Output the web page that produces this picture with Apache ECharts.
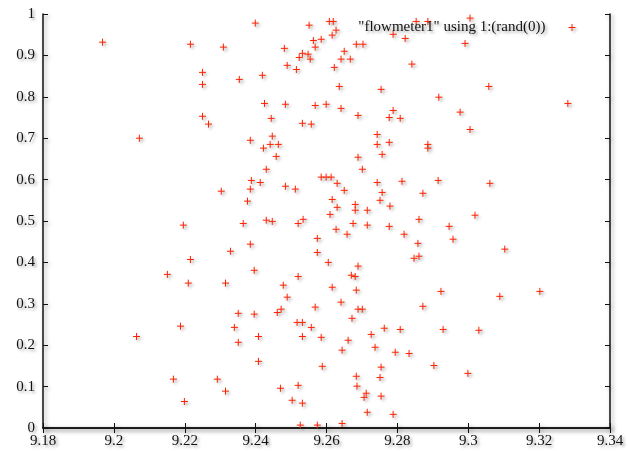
<!DOCTYPE html>
<html>
<head>
<meta charset="utf-8">
<script src="https://cdn.jsdelivr.net/npm/echarts@6/dist/echarts.min.js"></script>
<style>html,body{margin:0;padding:0;background:#fff}#c{width:628px;height:451px}</style>
</head>
<body>
<div id="c"></div>
<script>
// flowmeter1 readings (x) against rand(0) (y)
var xValues = [
9.1968,9.2216,9.2309,9.2250,9.2354,9.2250,9.2250,9.2267,9.2072,9.2303,
9.2399,9.2551,9.2608,9.2619,9.2627,9.2616,9.2563,9.2585,9.2568,9.2684,
9.2703,9.2788,9.2822,9.2853,9.2886,9.3005,9.2991,9.2481,9.2532,9.2548,
9.2523,9.2554,9.2650,9.2641,9.2667,9.2489,9.2515,9.2622,9.2841,9.2419,
9.2636,9.2754,9.2917,9.3058,9.3281,9.2425,9.2484,9.2568,9.2599,9.2641,
9.2788,9.2777,9.2808,9.2689,9.2444,9.2977,9.2532,9.2557,9.3005,9.2743,
9.2447,9.2385,9.2441,9.2464,9.2422,9.2458,9.2743,9.2777,9.2757,9.2689,
9.2886,9.2886,9.2430,9.2701,9.2585,9.2599,9.2613,9.2630,9.2388,9.2413,
9.2385,9.2484,9.2512,9.2650,9.2743,9.2813,9.2915,9.3061,9.2757,9.2872,
9.2377,9.2616,9.2751,9.2681,9.2630,9.2681,9.2715,9.2779,9.2610,9.3019,
9.2196,9.2365,9.2430,9.2447,9.2520,9.2534,9.2675,9.2715,9.2777,9.2861,
9.2627,9.2658,9.2819,9.2574,9.2385,9.2858,9.2574,9.2605,9.2847,9.2861,
9.2689,9.2396,9.2670,9.2681,9.2520,9.2478,9.2616,9.2684,9.2489,9.2641,
9.2568,9.2872,9.2472,9.2461,9.2396,9.2689,9.2701,9.2672,9.2517,9.2532,
9.2557,9.2763,9.2808,9.2726,9.2408,9.2532,9.2585,9.2661,9.2737,9.2644,
9.2794,9.2833,9.2408,9.2588,9.2754,9.2903,9.2684,9.2751,9.2520,9.2686,
9.2470,9.2712,9.2706,9.2754,9.2503,9.2532,9.2715,9.2788,9.2644,9.2526,
9.2574,9.2946,9.2957,9.3103,9.2923,9.3089,9.3202,9.2929,9.3030,9.2999,
9.2216,9.2329,9.2151,9.2210,9.2315,9.2351,9.2188,9.2340,9.2064,9.2351,
9.2168,9.2292,9.2315,9.2199
];
var yValues = [
0.932,0.927,0.920,0.859,0.842,0.830,0.753,0.734,0.700,0.572,
0.978,0.973,0.982,0.982,0.961,0.949,0.936,0.939,0.920,0.927,
0.927,0.951,0.941,0.982,0.982,0.990,0.929,0.917,0.905,0.903,
0.895,0.891,0.910,0.891,0.891,0.876,0.866,0.871,0.879,0.852,
0.825,0.818,0.799,0.825,0.784,0.784,0.782,0.779,0.782,0.772,
0.767,0.750,0.748,0.755,0.748,0.763,0.736,0.734,0.721,0.709,
0.705,0.695,0.685,0.685,0.676,0.656,0.685,0.690,0.661,0.654,
0.685,0.676,0.625,0.625,0.606,0.606,0.606,0.591,0.598,0.593,
0.577,0.584,0.577,0.574,0.593,0.596,0.598,0.591,0.569,0.567,
0.548,0.552,0.550,0.540,0.533,0.526,0.526,0.536,0.516,0.514,
0.490,0.494,0.502,0.499,0.494,0.504,0.494,0.490,0.487,0.504,
0.480,0.468,0.468,0.458,0.444,0.446,0.424,0.400,0.410,0.415,
0.391,0.381,0.369,0.366,0.366,0.345,0.340,0.333,0.316,0.304,
0.292,0.294,0.287,0.279,0.275,0.287,0.287,0.265,0.255,0.255,
0.243,0.241,0.238,0.226,0.221,0.221,0.219,0.212,0.195,0.188,
0.183,0.180,0.161,0.149,0.147,0.151,0.125,0.122,0.103,0.101,
0.096,0.084,0.074,0.077,0.067,0.060,0.038,0.033,0.011,0.007,
0.007,0.487,0.456,0.432,0.330,0.318,0.330,0.238,0.236,0.132,
0.407,0.427,0.371,0.350,0.350,0.277,0.246,0.243,0.221,0.207,
0.118,0.118,0.089,0.064
];
var seriesName = '"flowmeter1" using 1:(rand(0))';
var xTicks = {min: 9.18, max: 9.34, step: 0.02};
var yTicks = {min: 0, max: 1, step: 0.1};

var points = xValues.map(function (x, i) { return [x, yValues[i]]; });

var FONT = 'Liberation Serif';
var RED = '#ff2200';
var PLUS = 'path://M5,0L5,10M0,5L10,5';
var txtShadow = {textShadowColor: 'rgba(0,0,0,0.35)', textShadowBlur: 3, textShadowOffsetX: 2, textShadowOffsetY: 2};
var lineShadow = {shadowColor: 'rgba(0,0,0,0.35)', shadowBlur: 4, shadowOffsetX: 2, shadowOffsetY: 2};
var markStyle = {color: RED, borderColor: RED, borderWidth: 1, opacity: 1,
  shadowColor: 'rgba(0,0,0,0.3)', shadowBlur: 3, shadowOffsetX: 2, shadowOffsetY: 2};

function axisLine() {
  return {show: true, lineStyle: Object.assign({color: '#111', width: 1.5}, lineShadow)};
}
function ticks() {
  return {show: true, inside: true, length: 5, lineStyle: Object.assign({color: '#111', width: 1}, lineShadow)};
}

var chart = echarts.init(document.getElementById('c'), null, {renderer: 'canvas'});
chart.setOption({
  animation: false,
  backgroundColor: '#fff',
  grid: {left: 43, right: 18, top: 14, bottom: 23, containLabel: false},
  xAxis: [{
    type: 'value', min: xTicks.min, max: xTicks.max, interval: xTicks.step,
    position: 'bottom',
    axisLine: axisLine(), axisTick: ticks(), splitLine: {show: false},
    axisLabel: Object.assign({
      fontFamily: FONT, fontSize: 15, color: '#111', margin: 6,
      formatter: function (v) { return String(+v.toFixed(2)); }
    }, txtShadow)
  }, {
    type: 'value', min: xTicks.min, max: xTicks.max, interval: xTicks.step,
    position: 'top',
    axisLine: axisLine(), axisTick: ticks(), splitLine: {show: false},
    axisLabel: {show: false}
  }],
  yAxis: [{
    type: 'value', min: yTicks.min, max: yTicks.max, interval: yTicks.step,
    position: 'left',
    axisLine: axisLine(), axisTick: ticks(), splitLine: {show: false},
    axisLabel: Object.assign({
      fontFamily: FONT, fontSize: 15, color: '#111', margin: 8,
      formatter: function (v) { return String(+v.toFixed(1)); }
    }, txtShadow)
  }, {
    type: 'value', min: yTicks.min, max: yTicks.max, interval: yTicks.step,
    position: 'right',
    axisLine: axisLine(), axisTick: ticks(), splitLine: {show: false},
    axisLabel: {show: false}
  }],
  legend: {
    show: true,
    data: [seriesName],
    right: 47, top: 15,
    align: 'right',
    icon: PLUS,
    itemWidth: 7, itemHeight: 7,
    itemStyle: {color: RED, borderColor: RED, borderWidth: 1,
      shadowColor: 'rgba(0,0,0,0.3)', shadowBlur: 3, shadowOffsetX: 2, shadowOffsetY: 2},
    textStyle: Object.assign({fontFamily: FONT, fontSize: 15, color: '#111', padding: [0, 18, 0, 0]}, txtShadow)
  },
  series: [{
    name: seriesName,
    type: 'scatter',
    xAxisIndex: 0, yAxisIndex: 0,
    data: points,
    symbol: PLUS,
    symbolSize: 7,
    itemStyle: markStyle,
    emphasis: {disabled: true}
  }]
});
</script>
</body>
</html>
